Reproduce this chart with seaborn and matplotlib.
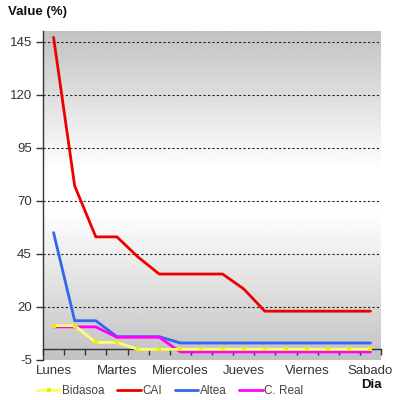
import matplotlib
matplotlib.use("Agg")
import matplotlib.pyplot as plt
import seaborn as sns
import numpy as np
import pandas as pd

# ---- data ----
steps = list(range(16))
day_labels = ["Lunes", "Martes", "Miercoles", "Jueves", "Viernes", "Sabado"]
day_positions = [0, 3, 6, 9, 12, 15]
y_ticks = [-5, 20, 45, 70, 95, 120, 145]

bidasoa = [11.2, 11.2, 3.3, 3.3, 0, 0, 0, 0, 0, 0, 0, 0, 0, 0, 0, 0]
cai = [147, 77, 53, 53, 43.5, 35.5, 35.5, 35.5, 35.5, 28.5, 18, 18, 18, 18, 18, 18]
altea = [55, 13.5, 13.5, 6, 6, 6, 3, 3, 3, 3, 3, 3, 3, 3, 3, 3]
creal = [10.6, 10.6, 10.6, 5.7, 5.7, 5.7, -1.2, -1.2, -1.2, -1.2, -1.2, -1.2, -1.2, -1.2, -1.2, -1.2]

series_names = ["Bidasoa", "CAI", "Altea", "C. Real"]
series_values = [bidasoa, cai, altea, creal]
colors = {"Bidasoa": "#ffff66", "CAI": "#ee0000", "Altea": "#3366ee", "C. Real": "#ff00ff"}

df = pd.DataFrame({
    "step": steps * 4,
    "value": bidasoa + cai + altea + creal,
    "series": sum([[n] * 16 for n in series_names], []),
})

sns.set_theme(style="white")
plt.rcParams["font.family"] = ["Liberation Sans", "DejaVu Sans"]

fig = plt.figure(figsize=(3.95, 4.0), dpi=100)
ax = fig.add_axes([43 / 395, 1 - 360 / 400, (381 - 43) / 395, (360 - 31) / 400])

# gradient background
pos = np.array([0.0, 0.42, 0.55, 1.0])
val = np.array([0.76, 1.0, 1.0, 0.76])
rows = np.interp(np.linspace(0, 1, 256), pos, val)
grad = np.tile(rows[:, None], (1, 2))
ax.imshow(grad, extent=[-0.5, 15.5, -5, 150], aspect="auto", cmap="gray",
          vmin=0, vmax=1, zorder=0, interpolation="bilinear")

draw_order = ["CAI", "Altea", "C. Real", "Bidasoa"]
for name in draw_order:
    sub = df[df["series"] == name]
    kw = dict(marker="s", markersize=3, markeredgewidth=0, markerfacecolor="#eeee00") if name == "Bidasoa" else {}
    sns.lineplot(data=sub, x="step", y="value", color=colors[name], lw=2,
                 ax=ax, label=name, zorder=3, **kw)

ax.set_xlim(-0.5, 15.5)
ax.set_ylim(-5, 150)
ax.set_xlabel("")
ax.set_ylabel("")

# y axis
ax.set_yticks(y_ticks)
ax.set_yticklabels([str(v) for v in y_ticks])
ax.tick_params(axis="y", which="major", direction="out", length=5, width=1,
               color="#333333", labelsize=9.5, labelcolor="#333333", pad=3, left=True)
ax.yaxis.grid(True, linestyle=(0, (2, 2)), color="#222222", lw=0.8)
ax.get_ygridlines()[0].set_visible(False)
ax.set_axisbelow(False)
for gl in ax.get_ygridlines():
    gl.set_zorder(1)

# x axis at y = 0
ax.spines["bottom"].set_position(("data", 0))
ax.spines["bottom"].set_color("#333333")
ax.spines["bottom"].set_linewidth(1)
ax.spines["bottom"].set_zorder(2)
ax.spines["left"].set_color("#333333")
ax.spines["left"].set_linewidth(1)
ax.spines["top"].set_visible(False)
ax.spines["right"].set_visible(False)
ax.set_xticks(day_positions)
ax.set_xticklabels(day_labels)
ax.set_xticks(np.arange(-0.5, 16, 1), minor=True)
ax.tick_params(axis="x", which="major", length=0, pad=11, labelsize=9.5,
               labelcolor="#333333")
ax.tick_params(axis="x", which="minor", direction="out", length=4, width=1,
               color="#333333", bottom=True)

# legend in original order
handles, labels = ax.get_legend_handles_labels()
hmap = dict(zip(labels, handles))
leg = fig.legend([hmap[n] for n in series_names], series_names, loc="center left",
                 bbox_to_anchor=(37 / 395, 1 - 391 / 400), ncol=4, frameon=False,
                 fontsize=8.5, handlelength=2.0, handletextpad=0.1, columnspacing=1.1,
                 borderaxespad=0, borderpad=0)
for t in leg.get_texts():
    t.set_color("#444444")
if ax.get_legend():
    ax.get_legend().remove()

fig.text(8 / 395, 1 - 12 / 400, "Value (%)", fontsize=9.5, fontweight="bold",
         ha="left", va="center", color="#111111")
fig.text(371 / 395, 1 - 385 / 400, "Dia", fontsize=9.5, fontweight="bold",
         ha="center", va="center", color="#111111")

fig.savefig("out.png", dpi=100)
